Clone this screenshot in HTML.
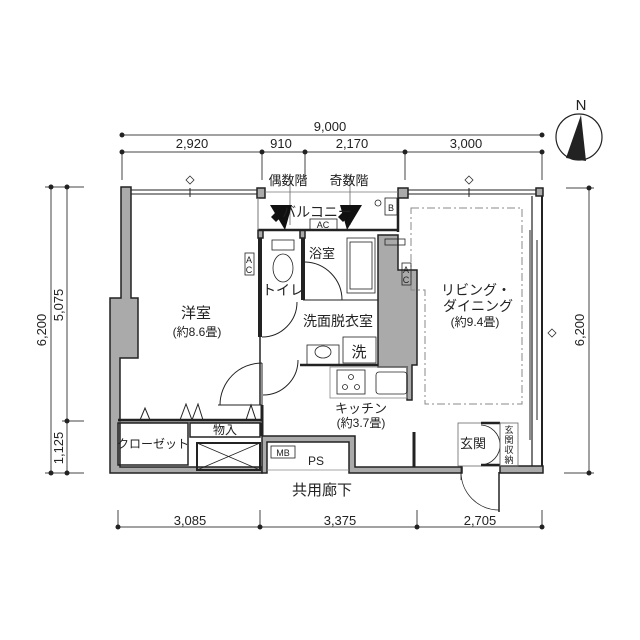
<!DOCTYPE html>
<html><head><meta charset="utf-8"><style>
html,body{margin:0;padding:0;background:#fff}
svg{display:block}
text{font-family:"Liberation Sans","Noto Sans CJK JP",sans-serif;fill:#222}
</style></head><body>
<svg width="640" height="640" viewBox="0 0 640 640" xmlns="http://www.w3.org/2000/svg">
<g stroke="#444" stroke-width="1" fill="none">
<line x1="122" y1="135" x2="542" y2="135"/>
<line x1="122" y1="152" x2="542" y2="152"/>
<line x1="122" y1="152" x2="122" y2="180"/>
<line x1="262" y1="152" x2="262" y2="180"/>
<line x1="305" y1="152" x2="305" y2="180"/>
<line x1="405" y1="152" x2="405" y2="180"/>
<line x1="542" y1="152" x2="542" y2="180"/>
<line x1="51" y1="187" x2="51" y2="473"/>
<line x1="67" y1="187" x2="67" y2="473"/>
<line x1="45" y1="187" x2="84" y2="187"/>
<line x1="45" y1="473" x2="84" y2="473"/>
<line x1="62" y1="421" x2="84" y2="421"/>
<line x1="589" y1="188" x2="589" y2="473"/>
<line x1="566" y1="188" x2="594" y2="188"/>
<line x1="564" y1="473" x2="594" y2="473"/>
<line x1="118" y1="527" x2="542" y2="527"/>
<line x1="118" y1="510" x2="118" y2="527"/>
<line x1="260" y1="510" x2="260" y2="527"/>
<line x1="417" y1="510" x2="417" y2="527"/>
<line x1="542" y1="510" x2="542" y2="527"/>
</g>
<g fill="#222">
<circle cx="122" cy="135" r="2.5"/><circle cx="542" cy="135" r="2.5"/>
<circle cx="122" cy="152" r="2.5"/><circle cx="262" cy="152" r="2.5"/><circle cx="305" cy="152" r="2.5"/><circle cx="405" cy="152" r="2.5"/><circle cx="542" cy="152" r="2.5"/>
<circle cx="51" cy="187" r="2.5"/><circle cx="67" cy="187" r="2.5"/><circle cx="51" cy="473" r="2.5"/><circle cx="67" cy="473" r="2.5"/><circle cx="67" cy="421" r="2.5"/>
<circle cx="589" cy="188" r="2.5"/><circle cx="589" cy="473" r="2.5"/>
<circle cx="118" cy="527" r="2.5"/><circle cx="260" cy="527" r="2.5"/><circle cx="417" cy="527" r="2.5"/><circle cx="542" cy="527" r="2.5"/>
</g>
<g font-size="13" text-anchor="middle">
<text x="330" y="131">9,000</text>
<text x="192" y="148">2,920</text>
<text x="281" y="148">910</text>
<text x="352" y="148">2,170</text>
<text x="466" y="148">3,000</text>
<text x="190" y="525">3,085</text>
<text x="340" y="525">3,375</text>
<text x="480" y="525">2,705</text>
<text transform="translate(46,330) rotate(-90)">6,200</text>
<text transform="translate(63,305) rotate(-90)">5,075</text>
<text transform="translate(63,448) rotate(-90)">1,125</text>
<text transform="translate(584,330) rotate(-90)">6,200</text>
</g>
<circle cx="579" cy="137" r="23" fill="none" stroke="#222" stroke-width="1.2"/>
<polygon points="581,115 566,158 586,161" fill="#222"/>
<text x="581" y="110" font-size="15" text-anchor="middle">N</text>
<g fill="#aaa" stroke="#222" stroke-width="1.5">
<path d="M121,187 H131 V298 H138 V358 H120 V467 H262 V440 H355 V467 H462 V473 H110 V298 H121 Z" fill="none" stroke="none"/>
<path d="M121,187 H131 V298 H138 V358 H120 V467 H262 V473 H110 V298 H121 Z"/>
<path d="M262,436 H355 V467 H462 V473 H349 V442 H267 V473 H262 Z"/>
<path d="M378,235 H398 V270 H417 V365 H412 V400 H407 V367 H378 Z"/>
<rect x="257" y="188" width="8" height="10"/>
<rect x="398" y="188" width="10" height="10"/>
<rect x="536" y="188" width="7" height="8"/>
<rect x="500" y="466" width="43" height="7"/>
<rect x="258" y="230" width="5" height="8"/>
<rect x="300" y="230" width="5" height="8"/>
</g>
<g stroke="#222" fill="none">
<line x1="131" y1="190" x2="257" y2="190" stroke-width="1"/>
<line x1="131" y1="194" x2="257" y2="194" stroke-width="1"/>
<line x1="190" y1="188" x2="190" y2="197" stroke-width="1"/>
<line x1="408" y1="190" x2="536" y2="190" stroke-width="1"/>
<line x1="408" y1="194" x2="536" y2="194" stroke-width="1"/>
<line x1="469" y1="188" x2="469" y2="197" stroke-width="1"/>
<line x1="265" y1="192" x2="398" y2="192" stroke-width="0.8" stroke="#777"/>
<line x1="258" y1="230" x2="398" y2="230" stroke-width="2.5"/>
<line x1="398" y1="198" x2="398" y2="232" stroke-width="2.5"/>
<line x1="258" y1="198" x2="258" y2="230" stroke-width="1" stroke="#777"/>
<line x1="532" y1="196" x2="532" y2="466" stroke-width="1.2"/>
<line x1="542" y1="196" x2="542" y2="466" stroke-width="2"/>
<line x1="530" y1="230" x2="530" y2="440" stroke-width="1"/>
<line x1="537" y1="240" x2="537" y2="420" stroke-width="1"/>
<line x1="260" y1="238" x2="260" y2="337" stroke-width="4"/>
<line x1="260" y1="337" x2="260" y2="405" stroke-width="1.5"/>
<line x1="262" y1="405" x2="262" y2="436" stroke-width="3"/>
<line x1="303" y1="238" x2="303" y2="300" stroke-width="4"/>
<line x1="303" y1="300" x2="378" y2="300" stroke-width="1"/>
<line x1="300" y1="365" x2="378" y2="365" stroke-width="2.5"/>
<line x1="118" y1="420" x2="262" y2="420" stroke-width="2.5"/>
<line x1="118" y1="422" x2="262" y2="422" stroke-width="1" stroke="#888"/>
<rect x="118" y="423" width="70" height="42" stroke-width="1.5"/>
<rect x="190" y="423" width="70" height="14" stroke-width="1.5"/>
<rect x="197" y="443" width="63" height="27" stroke-width="2"/>
<line x1="197" y1="443" x2="260" y2="470" stroke-width="0.8"/>
<line x1="260" y1="443" x2="197" y2="470" stroke-width="0.8"/>
<rect x="271" y="446" width="24" height="12" stroke-width="0.8"/>
<line x1="267" y1="470" x2="349" y2="470" stroke-width="0.8" stroke="#888"/>
<polyline points="140,420 145,408 150,420" stroke-width="1"/>
<polyline points="180,420 186,404 192,420 198,404 203,420" stroke-width="1"/>
<polyline points="246,420 251,405 256,420" stroke-width="1"/>
<line x1="262" y1="405" x2="262" y2="363" stroke-width="1"/>
<path d="M220,405 A42,42 0 0 1 262,363" stroke-width="1"/>
<line x1="218" y1="405" x2="262" y2="405" stroke-width="1"/>
<path d="M262,337 A35,35 0 0 0 297,302" stroke-width="1"/>
<path d="M263,395 A35,35 0 0 0 298,360" stroke-width="1"/>
<path d="M305,262 A38,38 0 0 1 342,300" stroke-width="1"/>
<rect x="272" y="240" width="22" height="10" stroke-width="0.8"/>
<ellipse cx="283" cy="268" rx="10" ry="14" stroke-width="0.8"/>
<rect x="347" y="238" width="28" height="55" stroke-width="0.8"/>
<rect x="350" y="242" width="22" height="47" stroke-width="0.8"/>
<rect x="307" y="345" width="32" height="20" stroke-width="0.8"/>
<ellipse cx="323" cy="352" rx="8" ry="6" stroke-width="0.8"/>
<rect x="343" y="337" width="33" height="26" stroke-width="0.8"/>
<rect x="330" y="367" width="77" height="31" stroke-width="0.8" stroke="#888"/>
<rect x="337" y="370" width="28" height="24" stroke-width="0.8"/>
<circle cx="351" cy="377" r="2.5" stroke-width="0.8"/><circle cx="345" cy="387" r="2.5" stroke-width="0.8"/><circle cx="357" cy="387" r="2.5" stroke-width="0.8"/>
<rect x="376" y="372" width="31" height="22" rx="3" stroke-width="0.8"/>
<line x1="414" y1="432" x2="414" y2="467" stroke-width="3"/>
<rect x="458" y="423" width="42" height="43" stroke-width="0.8" stroke="#666"/>
<line x1="481" y1="423" x2="500" y2="423" stroke-width="2.5"/>
<line x1="481" y1="465" x2="500" y2="465" stroke-width="2.5"/>
<path d="M481,425 A20,20 0 0 1 500,444 A20,20 0 0 1 481,465" stroke-width="0.8"/>
<rect x="500" y="423" width="18" height="43" stroke-width="0.8" stroke="#666"/>
<line x1="499" y1="472" x2="499" y2="512" stroke-width="1.5"/>
<path d="M461,472 A38,38 0 0 0 499,510" stroke-width="0.8"/>
<line x1="461" y1="466" x2="461" y2="480" stroke-width="0.8"/>
<path d="M411,208 H522 V404 H425 V290 H411 Z" stroke="#888" stroke-width="1" stroke-dasharray="8,3,2,3"/>
<rect x="245" y="253" width="9" height="22" stroke-width="0.8"/>
<rect x="402" y="263" width="9" height="22" stroke-width="0.8"/>
<rect x="310" y="219" width="27" height="11" stroke-width="0.8"/>
<rect x="385" y="198" width="12" height="17" stroke-width="0.8"/>
<circle cx="378" cy="203" r="3" stroke-width="0.8"/>
<rect x="385" y="239" width="20" height="6" stroke-width="0.8"/>
<line x1="290" y1="175" x2="290" y2="225" stroke-width="0.8" stroke="#666"/>
<line x1="350" y1="175" x2="350" y2="225" stroke-width="0.8" stroke="#666"/>
</g>
<g fill="#111">
<polygon points="270,205 292,205 285,230"/>
<polygon points="340,205 362,205 347,230"/>
<polygon points="276,212 281,217 276,222 271,217"/>
<polygon points="343,212 348,217 343,222 338,217"/>
</g>
<g fill="none" stroke="#333" stroke-width="0.8">
<polygon points="190,176 194,180 190,184 186,180"/>
<polygon points="469,176 473,180 469,184 465,180"/>
<polygon points="552,329 556,333 552,337 548,333"/>
</g>
<g text-anchor="middle" font-size="13">
<text x="288" y="185">偶数階</text>
<text x="349" y="185">奇数階</text>
<text x="317" y="217" font-size="14">バルコニー</text>
<text x="322" y="258">浴室</text>
<text x="283" y="295" font-size="14">トイレ</text>
<text x="196" y="318" font-size="15">洋室</text>
<text x="197" y="336" font-size="12">(約8.6畳)</text>
<text x="338" y="326" font-size="14">洗面脱衣室</text>
<text x="359" y="357" font-size="15">洗</text>
<text x="476" y="295" font-size="14">リビング・</text>
<text x="478" y="311" font-size="14">ダイニング</text>
<text x="475" y="326" font-size="12">(約9.4畳)</text>
<text x="361" y="413">キッチン</text>
<text x="361" y="427" font-size="12">(約3.7畳)</text>
<text x="153" y="448" font-size="12">クローゼット</text>
<text x="225" y="434" font-size="12">物入</text>
<text x="283" y="456" font-size="9">MB</text>
<text x="316" y="465" font-size="12">PS</text>
<text x="473" y="448" font-size="13">玄関</text>
<text x="323" y="228" font-size="9">AC</text>
<text x="391" y="211" font-size="9">B</text>
<text x="322" y="495" font-size="15">共用廊下</text>
</g>
<g text-anchor="middle" font-size="9">
<text x="249" y="263">A</text><text x="249" y="273">C</text>
<text x="406" y="273">A</text><text x="406" y="283">C</text>
<text x="509" y="433">玄</text><text x="509" y="443">関</text><text x="509" y="453">収</text><text x="509" y="463">納</text>
</g>
</svg>
</body></html>
